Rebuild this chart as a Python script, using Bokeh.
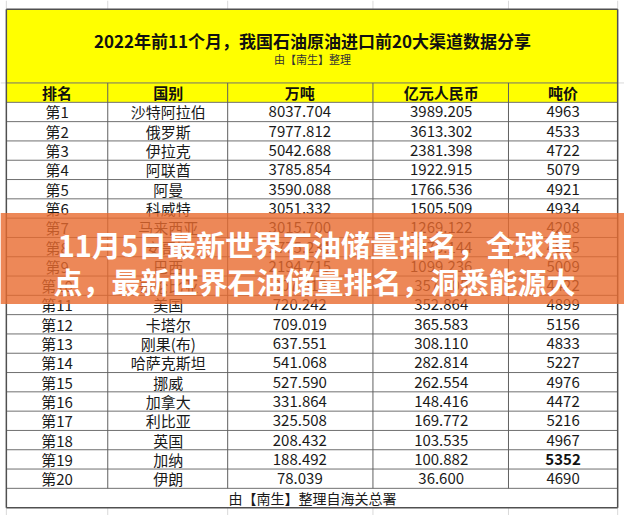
from bokeh.plotting import figure
from bokeh.models import ColumnDataSource, Range1d
from bokeh.embed import file_html
from bokeh.resources import INLINE
from bokeh.core.properties import value

# ---------------- data ----------------
title = "2022年前11个月，我国石油原油进口前20大渠道数据分享"
subtitle = "由【南生】整理"
footer = "由【南生】整理自海关总署"
headers = ["排名", "国别", "万吨", "亿元人民币", "吨价"]
ranks = ["第1", "第2", "第3", "第4", "第5", "第6", "第7", "第8", "第9", "第10",
         "第11", "第12", "第13", "第14", "第15", "第16", "第17", "第18", "第19", "第20"]
countries = ["沙特阿拉伯", "俄罗斯", "伊拉克", "阿联酋", "阿曼", "科威特", "马来西亚", "安哥拉",
             "巴西", "哥伦比亚", "美国", "卡塔尔", "刚果(布)", "哈萨克斯坦", "挪威", "加拿大",
             "利比亚", "英国", "加纳", "伊朗"]
tons = ["8037.704", "7977.812", "5042.688", "3785.854", "3590.088", "3051.332", "3015.700",
        "2775.231", "2194.715", "807.315", "720.242", "709.019", "637.551", "541.068",
        "527.590", "331.864", "325.508", "208.432", "188.492", "78.039"]
rmb = ["3989.205", "3613.302", "2381.398", "1922.915", "1766.536", "1505.509", "1269.122",
       "1375.144", "1099.236", "357.005", "352.864", "365.583", "308.110", "282.814",
       "262.554", "148.416", "169.772", "103.535", "100.882", "36.600"]
price = ["4963", "4533", "4722", "5079", "4921", "4934", "4208", "4955", "5009", "4422",
         "4899", "5156", "4833", "5227", "4976", "4472", "5216", "4967", "5352", "4690"]
bold_price = ["5352"]
banner_lines = ["11月5日最新世界石油储量排名，全球焦", "点，最新世界石油储量排名，洞悉能源大"]

# ---------------- layout ----------------
FONT = "Noto Sans CJK SC"
col_lines = [110, 233, 382, 521]
col_centers = [58, 172, 307, 452, 577]
L, R = 6, 633
top_y = 9
head_top, head_bot = 85, 105
row_h = 19.9
n = len(ranks)
body_bot = head_bot + row_h * n
foot_bot = 523

p = figure(width=624, height=515, x_range=Range1d(0, 640), y_range=Range1d(531, 0),
           output_backend="svg", toolbar_location=None, min_border=0,
           outline_line_color=None, background_fill_color="white",
           border_fill_color="white")
p.axis.visible = False
p.xgrid.visible = False
p.ygrid.visible = False

# spreadsheet grid around the table
gx = col_lines + [L, R]
p.segment(x0=gx, x1=gx, y0=[0] * len(gx), y1=[top_y] * len(gx), line_color="#d9d9d9", line_width=1)
p.segment(x0=gx, x1=gx, y0=[foot_bot] * len(gx), y1=[531] * len(gx), line_color="#d9d9d9", line_width=1)
p.segment(x0=[0, R], x1=[L, 640], y0=[head_top, head_top], y1=[head_top, head_top],
          line_color="#d9d9d9", line_width=1)

# yellow title + header
p.quad(left=[L], right=[R], top=[top_y], bottom=[head_bot], fill_color="#FFFF00", line_color=None)

# horizontal lines
hy = [head_top, head_bot] + [head_bot + row_h * (i + 1) for i in range(n)]
p.segment(x0=[L] * len(hy), x1=[R] * len(hy), y0=hy, y1=hy, line_color="#707070", line_width=1)
# vertical lines
p.segment(x0=col_lines, x1=col_lines, y0=[head_top] * 4, y1=[body_bot] * 4, line_color="#606060", line_width=1)
# outer border
p.segment(x0=[L, R, L, L], x1=[L, R, R, R], y0=[top_y, top_y, top_y, foot_bot],
          y1=[foot_bot, foot_bot, top_y, foot_bot], line_color="#505050", line_width=1.5)

# title texts
p.text(x=[320], y=[41], text=[title], text_font=value(FONT), text_font_size="17px",
       text_font_style="bold", text_align="center", text_baseline="middle", text_color="#111111")
p.text(x=[320], y=[60], text=[subtitle], text_font=value(FONT), text_font_size="11px",
       text_align="center", text_baseline="middle", text_color="#333333")

# headers
p.text(x=col_centers, y=[(head_top + head_bot) / 2] * 5, text=headers, text_font=value(FONT),
       text_font_size="15px", text_font_style="bold", text_align="center",
       text_baseline="middle", text_color="#111111")

# body
ys = [head_bot + row_h * (i + 0.5) for i in range(n)]
for ci, col in enumerate([ranks, countries, tons, rmb]):
    src = ColumnDataSource(dict(x=[col_centers[ci]] * n, y=ys, t=col))
    p.text(x="x", y="y", text="t", source=src, text_font=value(FONT), text_font_size="15px",
           text_align="center", text_baseline="middle", text_color="#1a1a1a")

normal_idx = [i for i, v in enumerate(price) if v not in bold_price]
bold_idx = [i for i, v in enumerate(price) if v in bold_price]
src_n = ColumnDataSource(dict(x=[col_centers[4]] * len(normal_idx), y=[ys[i] for i in normal_idx],
                              t=[price[i] for i in normal_idx]))
src_b = ColumnDataSource(dict(x=[col_centers[4]] * len(bold_idx), y=[ys[i] for i in bold_idx],
                              t=[price[i] for i in bold_idx]))
p.text(x="x", y="y", text="t", source=src_n, text_font=value(FONT), text_font_size="15px",
       text_align="center", text_baseline="middle", text_color="#1a1a1a")
p.text(x="x", y="y", text="t", source=src_b, text_font=value(FONT), text_font_size="15px",
       text_font_style="bold", text_align="center", text_baseline="middle", text_color="#111111")

# footer
p.text(x=[320], y=[(body_bot + foot_bot) / 2], text=[footer], text_font=value(FONT),
       text_font_size="14px", text_align="center", text_baseline="middle", text_color="#1a1a1a")

# orange banner overlay
p.quad(left=[0], right=[640], top=[219], bottom=[313], fill_color="#E86A2E", fill_alpha=0.8,
       line_color=None)
p.text(x=[323, 322], y=[251, 289], text=banner_lines, text_font=value(FONT),
       text_font_size="29px", text_font_style="bold", text_align="center",
       text_baseline="middle", text_color="white")

open("out.html", "w").write(file_html(p, INLINE))
